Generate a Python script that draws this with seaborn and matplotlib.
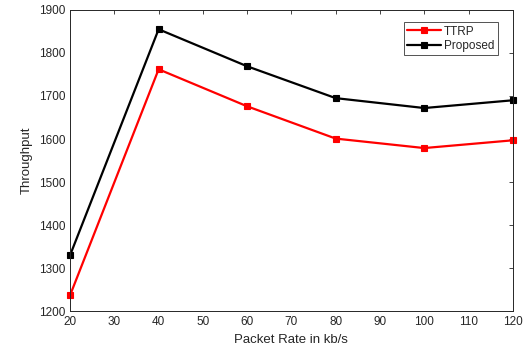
import matplotlib
matplotlib.use("Agg")
import matplotlib.pyplot as plt
import seaborn as sns
import pandas as pd

packet_rate = [20, 40, 60, 80, 100, 120]
ttrp = [1237, 1762, 1676, 1601, 1579, 1597]
proposed = [1330, 1855, 1769, 1695, 1672, 1690]

sns.set_style("white")
plt.rcParams['font.family'] = ['Liberation Sans', 'DejaVu Sans']

df = pd.DataFrame({
    "Packet Rate": packet_rate * 2,
    "Throughput": ttrp + proposed,
    "Series": ["TTRP"] * len(ttrp) + ["Proposed"] * len(proposed),
})

fig = plt.figure(figsize=(5.27, 3.54), dpi=100)
ax = fig.add_axes([0.133, 0.121, 0.84, 0.851])
sns.lineplot(data=df, x="Packet Rate", y="Throughput", hue="Series",
             palette={"TTRP": "#ff0000", "Proposed": "#000000"},
             marker="s", markersize=4.2, markeredgewidth=0.8, linewidth=1.6, ax=ax)
for ln in ax.get_lines():
    ln.set_markeredgecolor(ln.get_color())
    ln.set_clip_on(False)

ax.set_xlim(20, 120)
ax.set_ylim(1200, 1900)
ax.set_xticks(range(20, 121, 10))
ax.set_yticks(range(1200, 1901, 100))
ax.tick_params(direction="in", length=3, labelsize=8.5, colors="#262626",
               top=True, right=True, width=0.6)
for s in ax.spines.values():
    s.set_visible(True)
    s.set_color("#262626")
    s.set_linewidth(0.7)
ax.set_xlabel("Packet Rate in kb/s", fontsize=9.5)
ax.set_ylabel("Throughput", fontsize=9.5)
leg = ax.legend(loc="upper right", bbox_to_anchor=(0.966, 0.96), borderaxespad=0,
                fontsize=8.5, frameon=True, fancybox=False, edgecolor="#262626",
                handlelength=2.9, borderpad=0.3, labelspacing=0.2, handletextpad=0.2)
leg.get_frame().set_linewidth(0.7)
for h in leg.legend_handles:
    h.set_markeredgecolor(h.get_color())
fig.savefig("out.png", dpi=100)
